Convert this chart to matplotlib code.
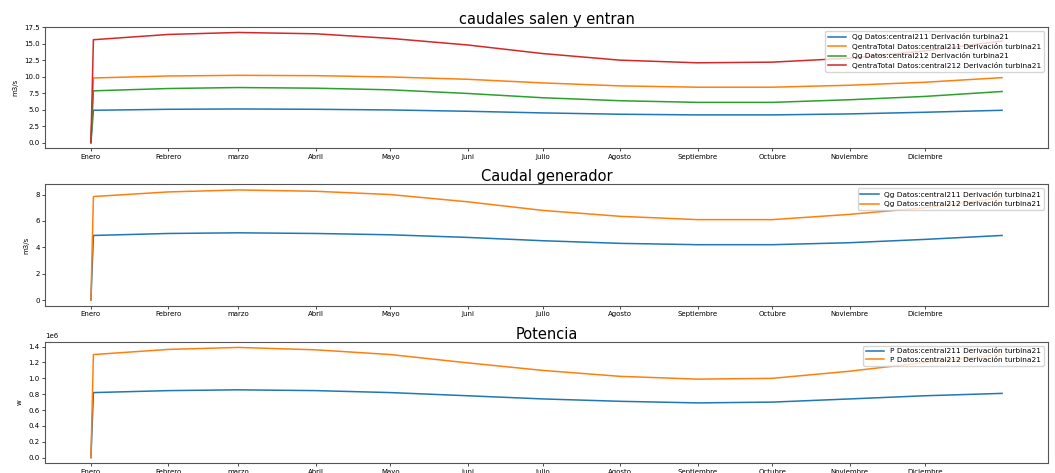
import matplotlib.pyplot as plt

# dias del año (inicio de cada mes) y fin de año
dias = [0, 1, 31, 59, 90, 120, 151, 181, 212, 243, 273, 304, 334, 365]
meses = ['Enero', 'Febrero', 'marzo', 'Abril', 'Mayo', 'Juni', 'Julio',
         'Agosto', 'Septiembre', 'Octubre', 'Noviembre', 'Diciembre']
pos_meses = [0, 31, 59, 90, 120, 151, 181, 212, 243, 273, 304, 334]

# caudales (m3/s)
qg_211 = [0, 4.9, 5.05, 5.1, 5.05, 4.95, 4.75, 4.5, 4.3, 4.2, 4.2, 4.35, 4.6, 4.9]
qentra_211 = [0, 9.8, 10.1, 10.2, 10.15, 9.95, 9.6, 9.05, 8.6, 8.4, 8.4, 8.7, 9.15, 9.85]
qg_212 = [0, 7.85, 8.2, 8.35, 8.25, 8.0, 7.45, 6.8, 6.35, 6.1, 6.1, 6.5, 7.0, 7.75]
qentra_212 = [0, 15.6, 16.4, 16.7, 16.5, 15.8, 14.8, 13.5, 12.5, 12.1, 12.2, 12.8, 13.9, 15.4]

# potencia (w)
p_211 = [0, 0.82e6, 0.845e6, 0.855e6, 0.845e6, 0.82e6, 0.78e6, 0.74e6, 0.71e6,
         0.69e6, 0.70e6, 0.74e6, 0.78e6, 0.81e6]
p_212 = [0, 1.30e6, 1.365e6, 1.39e6, 1.36e6, 1.30e6, 1.195e6, 1.10e6, 1.025e6,
         0.99e6, 1.0e6, 1.09e6, 1.2e6, 1.3e6]

plt.rcParams['lines.linewidth'] = 1.1

fig, (ax1, ax2, ax3) = plt.subplots(3, 1, figsize=(10.55, 4.73), dpi=100)
fig.subplots_adjust(left=0.043, right=0.993, top=0.943, bottom=0.021, hspace=0.3)

ax1.plot(dias, qg_211, label='Qg Datos:central211 Derivación turbina21')
ax1.plot(dias, qentra_211, label='QentraTotal Datos:central211 Derivación turbina21')
ax1.plot(dias, qg_212, label='Qg Datos:central212 Derivación turbina21')
ax1.plot(dias, qentra_212, label='QentraTotal Datos:central212 Derivación turbina21')
ax1.set_title('caudales salen y entran', fontsize=10.5, pad=2)
ax1.set_ylabel('m3/s', fontsize=5)

ax2.plot(dias, qg_211, label='Qg Datos:central211 Derivación turbina21')
ax2.plot(dias, qg_212, label='Qg Datos:central212 Derivación turbina21')
ax2.set_title('Caudal generador', fontsize=10.5, pad=2)
ax2.set_ylabel('m3/s', fontsize=5)

ax3.plot(dias, p_211, label='P Datos:central211 Derivación turbina21')
ax3.plot(dias, p_212, label='P Datos:central212 Derivación turbina21')
ax3.set_title('Potencia', fontsize=10.5, pad=2)
ax3.set_ylabel('w', fontsize=5)
ax3.yaxis.get_offset_text().set_fontsize(5)

for ax in (ax1, ax2, ax3):
    ax.set_xticks(pos_meses)
    ax.set_xticklabels(meses)
    ax.tick_params(labelsize=5, length=2, width=0.5, pad=2)
    for s in ax.spines.values():
        s.set_linewidth(0.8)
        s.set_color('#555555')
    ax.legend(loc='upper right', fontsize=5.3, handlelength=2.5, borderpad=0.35,
              labelspacing=0.35)

plt.savefig('out.png')
